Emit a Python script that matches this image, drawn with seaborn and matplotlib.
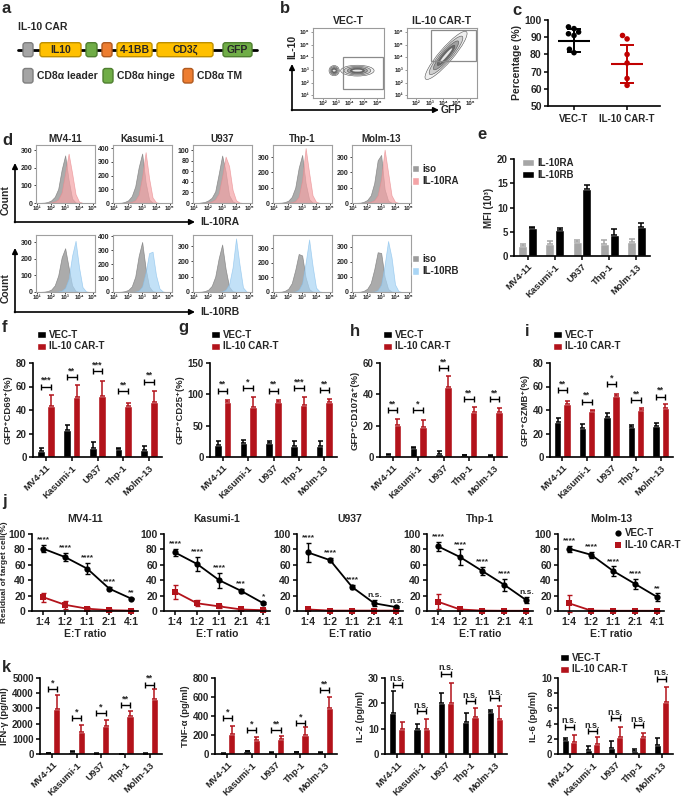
import numpy as np
import pandas as pd
import seaborn as sns
import matplotlib
matplotlib.use("Agg")
import matplotlib.pyplot as plt
from matplotlib.patches import FancyBboxPatch, Ellipse, Rectangle, Patch
from matplotlib.lines import Line2D

# ---------------- data ----------------
CELLS = ["MV4-11", "Kasumi-1", "U937", "Thp-1", "Molm-13"]
GROUPS = ["VEC-T", "IL-10 CAR-T"]
RATIOS = ["1:4", "1:2", "1:1", "2:1", "4:1"]

# a: CAR construct
CAR_LABELS = ["", "IL10", "", "", "4-1BB", "CD3ζ", "GFP"]
CAR_KINDS = ["leader", "yellow", "hinge", "tm", "yellow", "yellow", "hinge"]
LEGEND_LABELS = ["CD8α leader", "CD8α hinge", "CD8α TM"]
LEGEND_KINDS = ["leader", "hinge", "tm"]

# b: flow plots (log10 units): populations (cx, cy, w, h, angle) and gates
VEC_POPS = [(2.85, 2.95, 0.75, 0.8, 0), (4.55, 2.95, 2.45, 0.85, 0)]
CAR_POPS = [(4.2, 4.15, 4.8, 1.05, 51)]
VEC_GATE = (3.5, 1.5, 6.45, 4.0)
CAR_GATE = (3.1, 3.7, 6.4, 6.15)

# c: percentage GFP+
C_VEC = [96, 95, 93, 92, 91, 83, 81]
C_CAR = [91, 89, 80, 75, 66, 62]
C_MEAN = [88, 74.5]
C_SD = [6.8, 11.0]

# d: histograms on a log10 grid
LOG_GRID = [1.0, 1.25, 1.5, 1.75, 2.0, 2.25, 2.5, 2.75, 3.0, 3.25, 3.5, 3.75, 4.0, 4.25, 4.5, 4.75, 5.0]
RA_ISO = [
    [0, 1, 2, 6, 15, 35, 80, 190, 270, 130, 25, 3, 0, 0, 0, 0, 0],
    [0, 1, 2, 8, 20, 50, 120, 260, 360, 150, 25, 3, 0, 0, 0, 0, 0],
    [0, 0, 1, 2, 5, 10, 22, 55, 90, 60, 15, 3, 0, 0, 0, 0, 0],
    [0, 1, 2, 6, 15, 40, 100, 230, 315, 130, 25, 3, 0, 0, 0, 0, 0],
    [0, 1, 2, 8, 20, 50, 130, 280, 315, 90, 15, 2, 0, 0, 0, 0, 0],
]
RA_STAIN = [
    [0, 0, 0, 1, 3, 8, 20, 60, 170, 280, 170, 50, 8, 1, 0, 0, 0],
    [0, 0, 0, 1, 3, 8, 20, 60, 190, 370, 180, 40, 5, 0, 0, 0, 0],
    [0, 0, 0, 0, 1, 3, 7, 18, 50, 88, 70, 25, 5, 1, 0, 0, 0],
    [0, 0, 0, 0, 2, 5, 12, 40, 150, 360, 200, 50, 8, 1, 0, 0, 0],
    [0, 0, 0, 1, 3, 8, 18, 50, 160, 350, 200, 50, 8, 1, 0, 0, 0],
]
RB_ISO = [
    [0, 1, 2, 6, 15, 40, 100, 210, 265, 150, 40, 6, 1, 0, 0, 0, 0],
    [0, 1, 2, 6, 15, 40, 110, 260, 360, 170, 40, 6, 1, 0, 0, 0, 0],
    [0, 1, 2, 6, 15, 40, 100, 220, 310, 150, 35, 5, 1, 0, 0, 0, 0],
    [0, 1, 2, 8, 22, 60, 150, 260, 250, 100, 20, 3, 0, 0, 0, 0, 0],
    [0, 1, 2, 8, 22, 60, 150, 265, 260, 100, 20, 3, 0, 0, 0, 0, 0],
]
RB_STAIN = [
    [0, 0, 0, 0, 0, 1, 3, 8, 25, 80, 220, 310, 150, 30, 4, 0, 0],
    [0, 0, 0, 0, 0, 1, 3, 10, 40, 140, 280, 290, 120, 25, 3, 0, 0],
    [0, 0, 0, 0, 0, 0, 0, 1, 4, 15, 50, 160, 350, 180, 30, 3, 0],
    [0, 0, 0, 0, 0, 1, 4, 15, 60, 200, 360, 180, 30, 4, 0, 0, 0],
    [0, 0, 0, 0, 0, 1, 3, 12, 50, 180, 340, 230, 50, 6, 0, 0, 0],
]
RA_YMAX = [329, 422, 110, 380, 380]
RA_STEP = [100, 100, 20, 100, 100]
RB_YMAX = [345, 410, 372, 390, 380]

# e: MFI (10^3)
E_RA = [2.0, 2.5, 2.8, 2.5, 2.9]
E_RA_SD = [0.5, 0.6, 0.6, 0.8, 0.6]
E_RB = [5.8, 5.4, 13.8, 4.4, 5.9]
E_RB_SD = [0.2, 0.3, 0.8, 1.2, 0.9]

# f: GFP+CD69+
F_VEC = [5, 23, 8, 6.5, 6]
F_VEC_SD = [3, 4, 5, 1.5, 3.5]
F_CAR = [43, 51, 52, 43.5, 46.5]
F_CAR_SD = [10, 10, 13, 2.5, 10]
F_MARKS = ["***", "**", "***", "**", "**"]
F_BR = [60, 68, 73, 56, 64]
# g: GFP+CD25+
G_VEC = [19, 22, 22, 18, 18]
G_VEC_SD = [7, 5, 4, 7, 8]
G_CAR = [87, 79, 87, 83, 88]
G_CAR_SD = [4, 16, 4, 13, 4]
G_MARKS = ["**", "*", "**", "***", "**"]
G_BR = [106, 110, 106, 110, 107]
# h: GFP+CD107a+
H_VEC = [1.2, 5.5, 2, 1, 0.8]
H_VEC_SD = [0.5, 1, 2, 0.3, 0.3]
H_CAR = [20.5, 19.3, 44.5, 28.5, 28.5]
H_CAR_SD = [3.5, 4, 7, 3.5, 3]
H_MARKS = ["**", "*", "**", "**", "**"]
H_BR = [30, 30, 56.8, 36.8, 36.8]
# i: GFP+GZMB+
I_VEC = [30, 24.5, 34, 25.5, 26]
I_VEC_SD = [3.5, 4, 3.5, 1.5, 3]
I_CAR = [45.5, 39, 51.5, 40, 42]
I_CAR_SD = [2.5, 1, 2.5, 1.5, 3]
I_MARKS = ["**", "**", "*", "**", "**"]
I_BR = [56.6, 47, 62, 48.5, 51.4]

# j: residual target cells (%)
J_VEC = [[81, 70, 55, 29, 16], [76, 61, 40, 26, 10], [76, 66, 31, 10, 5],
         [84, 70, 52, 34, 14], [81, 73, 52, 35, 18]]
J_VEC_SD = [[5, 5, 7, 2, 1], [5, 9, 10, 3, 1.5], [12, 3, 3, 4, 1],
            [6, 10, 5, 8, 4], [4, 4, 6, 7, 5]]
J_CAR = [[18, 8, 3, 1, 0.5], [25, 10, 6, 2, 1], [2, 0.5, 0.5, 0.5, 0.5],
         [12, 2, 0.5, 0.3, 0.3], [10, 0.5, 0.3, 0.3, 0.3]]
J_CAR_SD = [[6, 5, 2, 1, 0.5], [9, 4, 2, 1, 1], [1, 0.3, 0.3, 0.3, 0.3],
            [10, 1, 0.5, 0.3, 0.3], [11, 0.5, 0.3, 0.3, 0.3]]
J_MARKS = [["****", "****", "****", "****", "**"],
           ["****", "****", "****", "***", "*"],
           ["****", "****", "****", "n.s.", "n.s."],
           ["****", "****", "****", "****", "n.s."],
           ["****", "****", "****", "****", "**"]]

# k: cytokines
IFN_VEC = [60, 150, 30, 20, 30]
IFN_VEC_SD = [20, 30, 10, 10, 10]
IFN_CAR = [2950, 1450, 1870, 2520, 3620]
IFN_CAR_SD = [950, 450, 350, 300, 650]
IFN_MARKS = ["*", "*", "*", "**", "**"]
IFN_BR = [4300, 2350, 2670, 3200, 4570]
TNF_VEC = [5, 30, 15, 20, 15]
TNF_VEC_SD = [2, 5, 3, 4, 3]
TNF_CAR = [210, 145, 160, 200, 480]
TNF_CAR_SD = [90, 35, 30, 80, 115]
TNF_MARKS = ["*", "*", "**", "*", "**"]
TNF_BR = [376, 254, 254, 323, 671]
IL2_VEC = [16, 10, 20, 12.5, 16.5]
IL2_VEC_SD = [9, 2, 4, 3.5, 1]
IL2_CAR = [9.7, 10, 20, 14.5, 14]
IL2_CAR_SD = [3, 4, 8, 3.5, 5]
IL2_BR = [27.4, 16.8, 31.7, 20.8, 22]
IL6_VEC = [1.8, 0.5, 0.8, 0.4, 1.2]
IL6_VEC_SD = [0.3, 0.5, 0.9, 0.3, 0.9]
IL6_CAR = [1.6, 1.3, 2.2, 2.2, 6.8]
IL6_CAR_SD = [0.9, 0.9, 1.4, 0.6, 2.0]
IL6_BR = [3.6, 3.0, 4.7, 3.8, 9.9]
NS = ["n.s."] * 5

# ---------------- style ----------------
BLACK = "#000000"
RED = "#b3131b"
GREY = "#a6a6a6"
PART_FC = {"leader": "#a5a5a5", "yellow": "#ffc000", "hinge": "#70ad47", "tm": "#ed7d31"}
PART_EC = {"leader": "#7f7f7f", "yellow": "#bf9000", "hinge": "#4f7f30", "tm": "#b05a20"}
SUP = {1: "¹", 2: "²", 3: "³", 4: "⁴", 5: "⁵", 6: "⁶"}
OFF = 0.1875

sns.set_theme(style="ticks")
plt.rcParams["font.family"] = ["Liberation Sans", "DejaVu Sans"]
plt.rcParams["font.weight"] = "bold"
plt.rcParams["axes.labelweight"] = "bold"
plt.rcParams["axes.titleweight"] = "bold"

W, H = 685, 796
fig = plt.figure(figsize=(W / 100, H / 100), dpi=100)


def add_ax(l, t, r, b):
    return fig.add_axes([l / W, 1 - b / H, (r - l) / W, (b - t) / H])


def style_ax(ax, fs=7):
    sns.despine(ax=ax)
    ax.tick_params(axis="both", length=3, width=1.1, labelsize=fs, pad=1.5, color="black")
    for s in ["left", "bottom"]:
        ax.spines[s].set_linewidth(1.2)
        ax.spines[s].set_color("black")
    ax.grid(False)


def rot_labels(ax, labels, fs=6.8):
    ax.set_xticks(np.arange(len(labels)))
    ax.set_xticklabels(labels, rotation=45, ha="right", rotation_mode="anchor", fontsize=fs)


def bracket(ax, x, y, label, ymax):
    eb = ax.errorbar(x, y, xerr=OFF, fmt="none", ecolor="black", elinewidth=1.0,
                     capsize=2.0, capthick=1.0)
    for a in eb.get_children():
        a.set_clip_on(False)
    ax.text(x, y + 0.02 * ymax, label, ha="center", va="bottom", fontsize=6.5, clip_on=False)


def bar_panel(ax, vec, vec_sd, car, car_sd, ymax, step, ylabel, marks, heights):
    df = pd.DataFrame({"cell": CELLS * 2,
                       "group": [GROUPS[0]] * 5 + [GROUPS[1]] * 5,
                       "value": list(vec) + list(car)})
    sns.barplot(data=df, x="cell", y="value", hue="group", order=CELLS, hue_order=GROUPS,
                palette=[BLACK, RED], width=0.75, gap=0.2, errorbar=None,
                saturation=1, legend=False, ax=ax)
    pos = np.arange(5)
    for off, m, s, c in [(-OFF, vec, vec_sd, BLACK), (OFF, car, car_sd, RED)]:
        ax.errorbar(pos + off, m, yerr=[np.zeros(5), s], fmt="none", ecolor=c,
                    elinewidth=1.1, capsize=1.8, capthick=1.1)
    ax.set_xlim(-0.5, 4.5)
    ax.set_ylim(0, ymax)
    ax.set_yticks(np.arange(0, ymax + 0.001, step))
    ax.set_xlabel("")
    ax.set_ylabel(ylabel, fontsize=6.8, labelpad=2)
    style_ax(ax)
    rot_labels(ax, CELLS)
    for i in range(5):
        bracket(ax, i, heights[i], marks[i], ymax)


def group_legend(ax, x, y, fs=7):
    handles = [Patch(facecolor=BLACK), Patch(facecolor=RED)]
    ax.legend(handles, GROUPS, loc="upper left", bbox_to_anchor=(x / W, 1 - y / H),
              bbox_transform=fig.transFigure, frameon=False, fontsize=fs,
              handlelength=0.9, handleheight=0.75, handletextpad=0.3,
              labelspacing=0.15, borderpad=0, borderaxespad=0)


# ---------------- a ----------------
ax_a = add_ax(0, 0, 275, 100)
ax_a.set_xlim(0, 275)
ax_a.set_ylim(100, 0)
ax_a.axis("off")
CAR_SPANS = [(23, 33), (40, 81), (86, 97), (102, 112), (117, 152), (157, 213), (223, 252)]
ax_a.plot([18, 257], [49.5, 49.5], color="black", lw=2, zorder=1)
for (x0, x1), lab, kind in zip(CAR_SPANS, CAR_LABELS, CAR_KINDS):
    ax_a.add_patch(FancyBboxPatch((x0, 42.7), x1 - x0, 14,
                                  boxstyle="round,pad=0,rounding_size=2.5",
                                  fc=PART_FC[kind], ec=PART_EC[kind], lw=1, zorder=2))
    if lab:
        ax_a.text((x0 + x1) / 2, 50, lab, ha="center", va="center", fontsize=7.5, zorder=3)
for x0, lab, kind in zip([23, 103, 183], LEGEND_LABELS, LEGEND_KINDS):
    ax_a.add_patch(FancyBboxPatch((x0, 68.5), 10, 14.5, boxstyle="round,pad=0,rounding_size=2.5",
                                  fc=PART_FC[kind], ec=PART_EC[kind], lw=1))
    ax_a.text(x0 + 14, 76, lab, ha="left", va="center", fontsize=7.5)
ax_a.text(18, 27, "IL-10 CAR", ha="left", va="center", fontsize=7.5)

# ---------------- b ----------------
LEVEL_SCALE = [1.0, 0.8, 0.6, 0.42]
LEVEL_FC = ["#efefef", "#d0d0d0", "#a0a0a0", "#6a6a6a"]
for (l, r), title, pops, gate in [((313, 384), "VEC-T", VEC_POPS, VEC_GATE),
                                  ((407, 477), "IL-10 CAR-T", CAR_POPS, CAR_GATE)]:
    ax = add_ax(l, 28, r, 98)
    ax.set_xlim(1.3, 6.5)
    ax.set_ylim(0.8, 6.3)
    for (cx, cy, w, h, ang) in pops:
        for sc, fc in zip(LEVEL_SCALE, LEVEL_FC):
            ax.add_patch(Ellipse((cx, cy), w * sc, h * sc, angle=ang,
                                 fc=fc, ec="#555555", lw=0.4))
        ax.add_patch(Ellipse((cx, cy), w * 0.3, h * 0.18, angle=ang, fc="#e8e8e8", lw=0))
    gx0, gy0, gx1, gy1 = gate
    ax.add_patch(Rectangle((gx0, gy0), gx1 - gx0, gy1 - gy0, fill=False, ec="#8a8a8a", lw=0.9))
    ax.set_xticks([2, 3, 4, 5, 6])
    ax.set_xticklabels(["10" + SUP[k] for k in [2, 3, 4, 5, 6]])
    ax.set_yticks([1, 2, 3, 4, 5, 6])
    ax.set_yticklabels(["10" + SUP[k] for k in [1, 2, 3, 4, 5, 6]])
    ax.tick_params(length=1.5, width=0.6, labelsize=4.3, pad=1, color="#888888")
    for s in ax.spines.values():
        s.set_color("#9a9a9a")
        s.set_linewidth(0.8)
    ax.grid(False)
    ax.set_title(title, fontsize=7.5, pad=3)

# ---------------- c ----------------
ax_c = add_ax(548, 20, 660, 106)
dfc = pd.DataFrame({"group": [GROUPS[0]] * len(C_VEC) + [GROUPS[1]] * len(C_CAR),
                    "value": C_VEC + C_CAR})
sns.swarmplot(data=dfc, x="group", y="value", hue="group", order=GROUPS, hue_order=GROUPS,
              palette=[BLACK, "#c00000"], size=4, ax=ax_c, legend=False)
for i, c in enumerate([BLACK, "#c00000"]):
    ax_c.hlines(C_MEAN[i], i - 0.3, i + 0.3, color=c, lw=1.5, zorder=4)
    ax_c.errorbar(i, C_MEAN[i], yerr=C_SD[i], fmt="none", ecolor=c, elinewidth=1.4,
                  capsize=5, capthick=1.4, zorder=4)
ax_c.set_xlim(-0.49, 1.62)
ax_c.set_ylim(50, 100)
ax_c.set_yticks(range(50, 101, 10))
ax_c.set_xlabel("")
ax_c.set_ylabel("Percentage (%)", fontsize=7.5, labelpad=2)
style_ax(ax_c, 7.5)
ax_c.tick_params(axis="x", length=3, pad=3, labelsize=7)

# ---------------- d ----------------
D_LEFTS = [36, 113, 193, 273, 352]
for row, (iso, stain, ymaxs, color, edge, name, top, bot) in enumerate([
        (RA_ISO, RA_STAIN, RA_YMAX, "#f4a3a6", "#e98a8e", "IL-10RA", 145, 203),
        (RB_ISO, RB_STAIN, RB_YMAX, "#a9d5f5", "#86c0ec", "IL-10RB", 235, 292)]):
    for i, l in enumerate(D_LEFTS):
        ax = add_ax(l, top, l + 59, bot)
        ax.fill_between(LOG_GRID, iso[i], color="#9c9c9c", alpha=0.85, lw=0.5, ec="#808080")
        ax.fill_between(LOG_GRID, stain[i], color=color, alpha=0.7, lw=0.5, ec=edge)
        ax.set_xlim(0.9, 5.15)
        ax.set_ylim(0, ymaxs[i])
        step = RA_STEP[i] if row == 0 else 100
        ax.set_yticks(np.arange(0, ymaxs[i], step))
        ax.set_xticks([1, 2, 3, 4, 5])
        ax.set_xticklabels(["10" + SUP[k] for k in [1, 2, 3, 4, 5]])
        ax.tick_params(axis="y", length=1.5, width=0.6, labelsize=5, pad=1)
        ax.tick_params(axis="x", length=1.5, width=0.6, labelsize=4.3, pad=1)
        for s in ax.spines.values():
            s.set_color("#a0a0a0")
            s.set_linewidth(0.8)
        ax.grid(False)
        if row == 0:
            ax.set_title(CELLS[i], fontsize=7, pad=2)
    handles = [Patch(facecolor="#9c9c9c"), Patch(facecolor=color)]
    ax.legend(handles, ["iso", name], loc="upper left",
              bbox_to_anchor=(412 / W, 1 - (top + 19) / H), bbox_transform=fig.transFigure,
              frameon=False, fontsize=7, handlelength=0.7, handleheight=0.8,
              handletextpad=0.4, labelspacing=0.25, borderpad=0, borderaxespad=0)

# ---------------- e ----------------
ax_e = add_ax(514, 159, 650, 256)
dfe = pd.DataFrame({"cell": CELLS * 2, "rec": ["IL-10RA"] * 5 + ["IL-10RB"] * 5,
                    "value": E_RA + E_RB})
sns.barplot(data=dfe, x="cell", y="value", hue="rec", order=CELLS,
            hue_order=["IL-10RA", "IL-10RB"], palette=[GREY, BLACK], width=0.72, gap=0.08,
            errorbar=None, saturation=1, legend=False, ax=ax_e)
for off, m, s, c in [(-0.18, E_RA, E_RA_SD, GREY), (0.18, E_RB, E_RB_SD, BLACK)]:
    ax_e.errorbar(np.arange(5) + off, m, yerr=[np.zeros(5), s], fmt="none", ecolor=c,
                  elinewidth=1.1, capsize=2, capthick=1.1)
ax_e.set_xlim(-0.5, 4.5)
ax_e.set_ylim(0, 20)
ax_e.set_yticks([0, 5, 10, 15, 20])
ax_e.set_xlabel("")
ax_e.set_ylabel("MFI (10³)", fontsize=7, labelpad=2)
style_ax(ax_e)
rot_labels(ax_e, CELLS)
ax_e.legend([Patch(facecolor=GREY), Patch(facecolor=BLACK)], ["IL-10RA", "IL-10RB"],
            loc="upper left", bbox_to_anchor=(522 / W, 1 - 158 / H),
            bbox_transform=fig.transFigure, frameon=False, fontsize=7, handlelength=1.2,
            handleheight=0.8, handletextpad=0.4, labelspacing=0.2, borderpad=0,
            borderaxespad=0)

# ---------------- f-i ----------------
for (l, r), vals, ymax, step, ylab, leg_x in [
        ((33, 162), (F_VEC, F_VEC_SD, F_CAR, F_CAR_SD, F_MARKS, F_BR), 80, 20, "GFP⁺CD69⁺(%)", 37),
        ((210, 337), (G_VEC, G_VEC_SD, G_CAR, G_CAR_SD, G_MARKS, G_BR), 150, 50, "GFP⁺CD25⁺(%)", 211),
        ((380, 507), (H_VEC, H_VEC_SD, H_CAR, H_CAR_SD, H_MARKS, H_BR), 60, 20, "GFP⁺CD107a⁺(%)", 383),
        ((550, 673), (I_VEC, I_VEC_SD, I_CAR, I_CAR_SD, I_MARKS, I_BR), 80, 20, "GFP⁺GZMB⁺(%)", 553)]:
    ax = add_ax(l, 363, r, 457)
    v, vs, c, cs, mk, br = vals
    bar_panel(ax, v, vs, c, cs, ymax, step, ylab, mk, br)
    group_legend(ax, leg_x, 330)

# ---------------- j ----------------
J_LEFTS = [32, 164, 297, 427, 558]
for i, l in enumerate(J_LEFTS):
    ax = add_ax(l, 534, l + 106, 611)
    dfj = pd.DataFrame({"pos": list(range(5)) * 2,
                        "group": [GROUPS[0]] * 5 + [GROUPS[1]] * 5,
                        "value": J_VEC[i] + J_CAR[i]})
    sns.lineplot(data=dfj, x="pos", y="value", hue="group", style="group",
                 hue_order=GROUPS, style_order=GROUPS, palette=[BLACK, RED],
                 markers=["o", "s"], dashes=False, markersize=4.5, markeredgewidth=0,
                 linewidth=1.3, legend=False, ax=ax)
    for m, s, c in [(J_VEC[i], J_VEC_SD[i], BLACK), (J_CAR[i], J_CAR_SD[i], RED)]:
        ax.errorbar(range(5), m, yerr=s, fmt="none", ecolor=c, elinewidth=1.0,
                    capsize=1.8, capthick=1.0)
    for ln in ax.lines:
        ln.set_clip_on(False)
    for k in range(5):
        ax.text(k, J_VEC[i][k] + J_VEC_SD[i][k] + 2, J_MARKS[i][k], ha="center",
                va="bottom", fontsize=6, clip_on=False)
    ax.set_xlim(-0.5, 4.3)
    ax.set_ylim(0, 100)
    ax.set_yticks(range(0, 101, 20))
    ax.set_xticks(range(5))
    ax.set_xticklabels(RATIOS)
    ax.set_xlabel("E:T ratio", fontsize=7.5, labelpad=1)
    ax.set_ylabel("Residual of target cell(%)" if i == 0 else "", fontsize=6, labelpad=0.5)
    ax.set_title(CELLS[i], fontsize=7.5, pad=9)
    style_ax(ax, 7.5)
    if i == 4:
        ax.legend([Line2D([0], [0], marker="o", color="none", markerfacecolor=BLACK,
                          markeredgewidth=0, markersize=4.5),
                   Line2D([0], [0], marker="s", color="none", markerfacecolor=RED,
                          markeredgewidth=0, markersize=4.5)],
                  GROUPS, loc="upper left", bbox_to_anchor=(614 / W, 1 - 528 / H),
                  bbox_transform=fig.transFigure, frameon=False, fontsize=7,
                  handlelength=0.8, handletextpad=0.3, labelspacing=0.25, borderpad=0,
                  borderaxespad=0)

# ---------------- k ----------------
for (l, r), vals, ymax, step, ylab in [
        ((40, 162), (IFN_VEC, IFN_VEC_SD, IFN_CAR, IFN_CAR_SD, IFN_MARKS, IFN_BR), 5000, 1000, "IFN-γ (pg/ml)"),
        ((215, 337), (TNF_VEC, TNF_VEC_SD, TNF_CAR, TNF_CAR_SD, TNF_MARKS, TNF_BR), 800, 200, "TNF-α (pg/ml)"),
        ((385, 507), (IL2_VEC, IL2_VEC_SD, IL2_CAR, IL2_CAR_SD, NS, IL2_BR), 30, 10, "IL-2 (pg/ml)"),
        ((558, 673), (IL6_VEC, IL6_VEC_SD, IL6_CAR, IL6_CAR_SD, NS, IL6_BR), 10, 2, "IL-6 (pg/ml)")]:
    ax = add_ax(l, 678, r, 754)
    v, vs, c, cs, mk, br = vals
    bar_panel(ax, v, vs, c, cs, ymax, step, ylab, mk, br)
group_legend(ax, 560, 653)

# ---------------- overlay: arrows and panel letters ----------------
ov = fig.add_axes([0, 0, 1, 1])
ov.set_xlim(0, W)
ov.set_ylim(H, 0)
ov.axis("off")
ov.patch.set_visible(False)
arrow = dict(arrowstyle="-|>", lw=1.2, color="black", mutation_scale=8, shrinkA=0, shrinkB=0)
ov.annotate("", xy=(292, 64), xytext=(292, 110.5), arrowprops=arrow)
ov.annotate("", xy=(439, 110), xytext=(291.5, 110), arrowprops=arrow)
ov.text(292, 47, "IL-10", rotation=90, ha="center", va="center", fontsize=7.5)
ov.text(441, 110, "GFP", ha="left", va="center", fontsize=7.5)
for ya, yb, name in [(222, 163, "IL-10RA"), (312, 248, "IL-10RB")]:
    ov.annotate("", xy=(15, yb), xytext=(15, ya + 0.5), arrowprops=arrow)
    ov.annotate("", xy=(195, ya), xytext=(14.5, ya), arrowprops=arrow)
    ov.text(200, ya, name, ha="left", va="center", fontsize=7.5)
    ov.text(6, (ya + yb) / 2 + 8, "Count", rotation=90, ha="center", va="center", fontsize=7.5)
for s, x, y in [("a", 2, 1), ("b", 280, 1), ("c", 512, 3), ("d", 2, 133), ("e", 477, 127),
                ("f", 2, 320), ("g", 178, 320), ("h", 350, 324), ("i", 525, 324),
                ("j", 2, 494), ("k", 2, 660)]:
    ov.text(x, y, s, ha="left", va="top", fontsize=12)

fig.savefig("out.png", dpi=100)
